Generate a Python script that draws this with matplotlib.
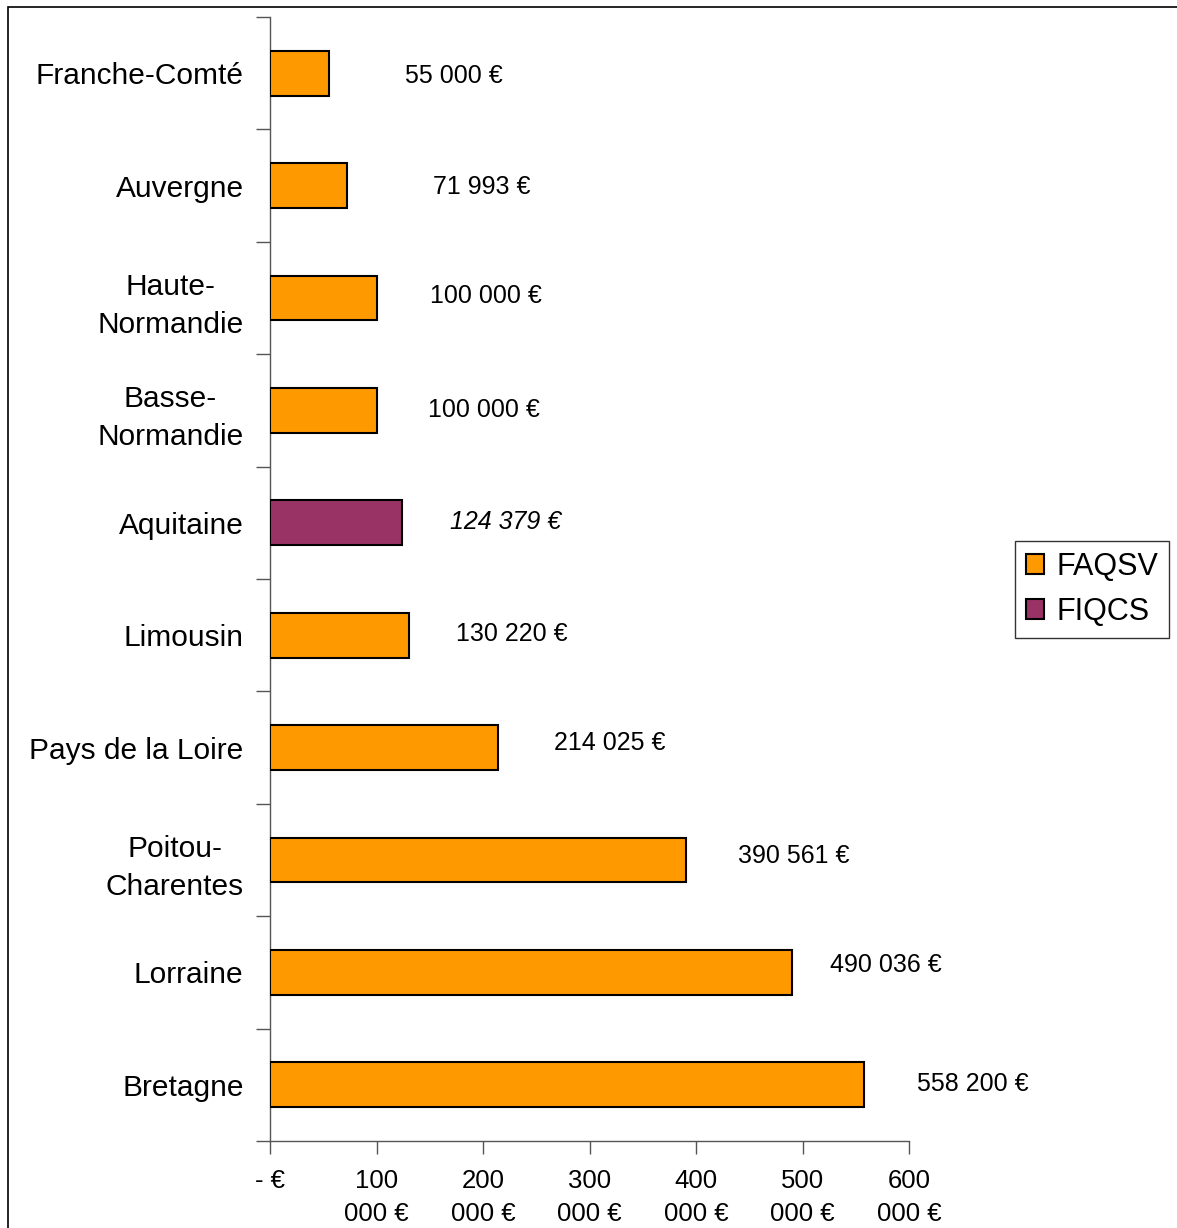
import matplotlib.pyplot as plt
from matplotlib.patches import Patch, Rectangle

plt.rcParams['font.family'] = ['Liberation Sans', 'DejaVu Sans']

regions = ['Franche-Comté', 'Auvergne', 'Haute-\nNormandie', 'Basse-\nNormandie',
           'Aquitaine', 'Limousin', 'Pays de la Loire', 'Poitou-\nCharentes',
           'Lorraine', 'Bretagne']
amounts = [55000, 71993, 100000, 100000, 124379, 130220, 214025, 390561, 490036, 558200]
funds = ['FAQSV', 'FAQSV', 'FAQSV', 'FAQSV', 'FIQCS', 'FAQSV', 'FAQSV', 'FAQSV', 'FAQSV', 'FAQSV']
value_labels = ['55 000 €', '71 993 €', '100 000 €', '100 000 €', '124 379 €',
                '130 220 €', '214 025 €', '390 561 €', '490 036 €', '558 200 €']
x_ticks = [0, 100000, 200000, 300000, 400000, 500000, 600000]
x_tick_labels = ['- €', '100\n000 €', '200\n000 €', '300\n000 €', '400\n000 €',
                 '500\n000 €', '600\n000 €']

fund_colors = {'FAQSV': '#FF9900', 'FIQCS': '#993366'}
# label offsets from bar end (right, down), in pixels
label_dx = [125, 135, 109, 107, 103, 103, 112, 108, 94, 108]
label_dy = [3, 1, -2, 0, -1, -1, -5, -4, -7, -1]

W, H = 1177, 1228
fig = plt.figure(figsize=(W / 100, H / 100), dpi=100)
ax = fig.add_axes([270 / W, 1 - 1141 / H, 639 / W, (1141 - 17) / H])

pos = list(range(len(regions)))
ax.barh(pos, amounts, height=0.4, color=[fund_colors[f] for f in funds],
        edgecolor='black', linewidth=1.5, zorder=3)

for i, (v, txt) in enumerate(zip(amounts, value_labels)):
    ax.annotate(txt, (v, i), xytext=(label_dx[i], -label_dy[i]), textcoords='offset pixels',
                ha='center', va='center', fontsize=18,
                style='italic' if funds[i] == 'FIQCS' else 'normal')

ax.set_xlim(0, 600000)
ax.set_ylim(len(regions) - 0.5, -0.5)
ax.set_xticks(x_ticks)
ax.set_xticklabels(x_tick_labels, fontsize=18.5, linespacing=1.5)
ax.set_yticks(pos)
ax.set_yticklabels(regions, fontsize=21.5, multialignment='center', linespacing=1.45)
ax.set_yticks([p - 0.5 for p in pos] + [len(regions) - 0.5], minor=True)
ax.tick_params(axis='y', which='major', length=0, pad=19)
ax.tick_params(axis='y', which='minor', length=10, width=1, color='#555555', direction='out')
ax.tick_params(axis='x', length=9, width=1, color='#555555', pad=11)

for side in ['top', 'right']:
    ax.spines[side].set_visible(False)
for side in ['left', 'bottom']:
    ax.spines[side].set_color('#555555')
    ax.spines[side].set_linewidth(1)

handles = [Patch(facecolor=fund_colors[f], edgecolor='black', linewidth=1.5, label=f)
           for f in ['FAQSV', 'FIQCS']]
leg = fig.legend(handles=handles, loc='upper left', bbox_to_anchor=(1015 / W, 1 - 541 / H),
                 fontsize=22, frameon=True, fancybox=False, handlelength=0.6, handleheight=0.6,
                 handletextpad=0.4, borderpad=0.35, labelspacing=0.5, borderaxespad=0)
leg.get_frame().set_edgecolor('black')
leg.get_frame().set_linewidth(1)

# outer chart border
fig.patches.append(Rectangle((8 / W, -0.1), 2, 1.1 - 7 / H, transform=fig.transFigure,
                             fill=False, edgecolor='black', linewidth=1.2))

fig.savefig('out.png', dpi=100)
